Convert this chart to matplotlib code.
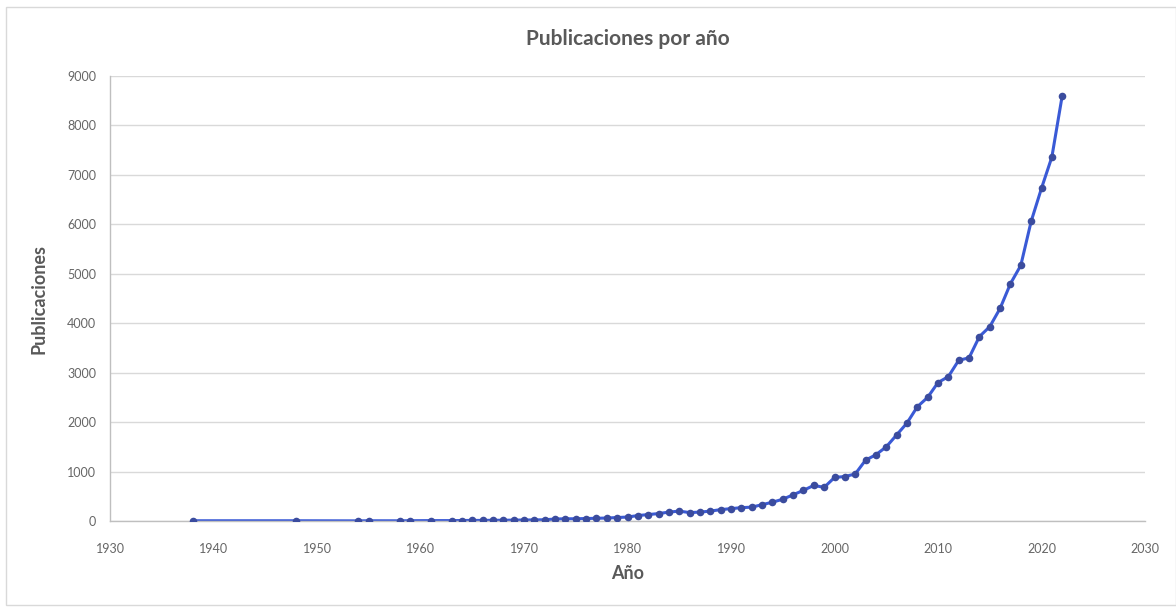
import matplotlib
matplotlib.use("Agg")
import matplotlib.pyplot as plt
from matplotlib.patches import Rectangle

# Publications per year
years = [1938, 1948, 1954, 1955, 1958, 1959, 1961, 1963, 1964, 1965, 1966, 1967,
         1968, 1969, 1970, 1971, 1972, 1973, 1974, 1975, 1976, 1977, 1978, 1979,
         1980, 1981, 1982, 1983, 1984, 1985, 1986, 1987, 1988, 1989, 1990, 1991,
         1992, 1993, 1994, 1995, 1996, 1997, 1998, 1999, 2000, 2001, 2002, 2003,
         2004, 2005, 2006, 2007, 2008, 2009, 2010, 2011, 2012, 2013, 2014, 2015,
         2016, 2017, 2018, 2019, 2020, 2021, 2022]
publications = [5, 5, 3, 5, 4, 6, 8, 8, 10, 12, 12, 15,
                15, 18, 20, 22, 25, 40, 45, 45, 50, 55, 60, 70,
                80, 110, 130, 150, 180, 200, 170, 180, 200, 230, 250, 270,
                280, 330, 380, 440, 530, 620, 720, 680, 880, 900, 950, 1230,
                1340, 1500, 1740, 1980, 2310, 2500, 2800, 2920, 3250, 3300, 3730, 3930,
                4300, 4800, 5170, 6060, 6730, 7360, 8600]

x_ticks = list(range(1930, 2031, 10))
y_ticks = list(range(0, 9001, 1000))

plt.rcParams['font.family'] = ['Lato', 'DejaVu Sans']
text_grey = '#595959'

fig = plt.figure(figsize=(11.76, 6.08), dpi=100)
fig.patches.append(Rectangle((6 / 1176, 0.005), 1 - 6 / 1176, 1 - 7 / 608 - 0.005,
                             transform=fig.transFigure, fill=False,
                             edgecolor='#d9d9d9', linewidth=1.0))

ax = fig.add_axes([110 / 1176, 1 - 521 / 608, (1145 - 110) / 1176, (521 - 76) / 608])

ax.plot(years, publications, color='#3a5ad6', linewidth=2.2, zorder=2)
ax.scatter(years, publications, s=30, color='#3b4c9e', zorder=3, linewidths=0)

ax.set_xlim(1930, 2030)
ax.set_ylim(0, 9000)
ax.set_xticks(x_ticks)
ax.set_yticks(y_ticks)
ax.tick_params(axis='both', length=0, labelsize=9, labelcolor='#666666')
ax.tick_params(axis='x', pad=16)
ax.tick_params(axis='y', pad=10)

ax.yaxis.grid(True, color='#d9d9d9', linewidth=1.0)
ax.set_axisbelow(True)
for side in ('top', 'right'):
    ax.spines[side].set_visible(False)
for side in ('left', 'bottom'):
    ax.spines[side].set_color('#bfbfbf')
    ax.spines[side].set_linewidth(1.0)

ax.set_title('Publicaciones por año', fontsize=15, fontweight='bold',
             color=text_grey, pad=22)
ax.set_xlabel('Año', fontsize=13, fontweight='bold', color=text_grey, labelpad=7)
ax.set_ylabel('Publicaciones', fontsize=13, fontweight='bold', color=text_grey, labelpad=14)

fig.savefig('out.png', dpi=100, facecolor='white')
